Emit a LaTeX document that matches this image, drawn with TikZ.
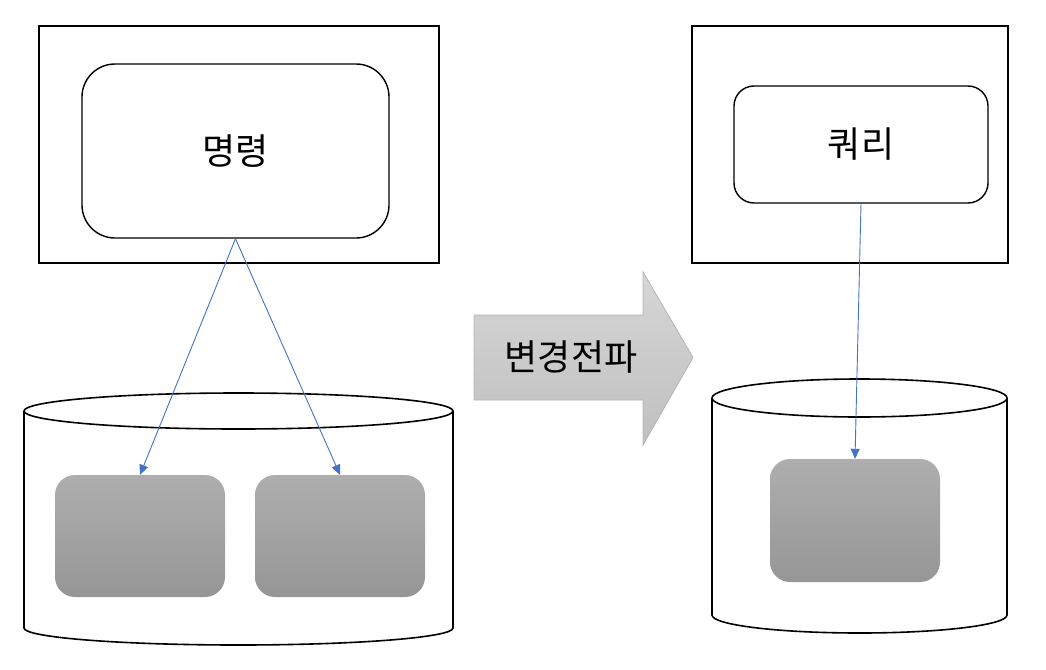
\documentclass[tikz,border=0pt]{standalone}
\usepackage{fontspec}
\usepackage{tikz}
\usetikzlibrary{arrows.meta,positioning,calc}
\newfontfamily\krfont{Noto Sans CJK KR}
\definecolor{linkblue}{RGB}{68,114,196}
\definecolor{storetop}{RGB}{174,174,174}
\definecolor{storebot}{RGB}{150,150,150}
\definecolor{flowtop}{RGB}{214,214,214}
\definecolor{flowbot}{RGB}{192,192,192}
\definecolor{flowedge}{RGB}{180,180,180}

\begin{document}
\begin{tikzpicture}[x=1pt,y=-1pt,
  frame/.style={draw,line width=1.6pt,minimum width=#1,minimum height=237pt,inner sep=0pt},
  textbox/.style={draw,line width=1.4pt,rounded corners=#1,inner sep=0pt,font=\krfont\fontsize{36}{40}\selectfont},
  store/.style={rounded corners=20pt,top color=storetop,bottom color=storebot,minimum width=170pt,minimum height=122pt,inner sep=0pt},
  link/.style={linkblue,line width=0.9pt,-{Triangle[length=10pt,width=9pt]}}]
  \useasboundingbox (0,0) rectangle (1046,669);
  \node[frame=400pt] (cmdframe) at (239,144.5) {};
  \node[textbox=33pt,minimum width=307pt,minimum height=174pt] (cmd) at (235.5,151) {명령};
  \node[frame=316pt] (qryframe) at (850,144.5) {};
  \node[textbox=20pt,minimum width=254pt,minimum height=117pt] (qry) at (861,144.5) {쿼리};
  \draw[line width=1.6pt] (24,411) -- (24,628) arc[start angle=180,end angle=0,x radius=214.5,y radius=17] -- (453,411);
  \draw[line width=1.6pt] (238.5,411) ellipse[x radius=214.5,y radius=18];
  \draw[line width=1.6pt] (712,398) -- (712,615) arc[start angle=180,end angle=0,x radius=147.5,y radius=18] -- (1007,398);
  \draw[line width=1.6pt] (859.5,398) ellipse[x radius=147.5,y radius=19];
  \node[store] (storeA) at (140,536) {};
  \node[store] (storeB) at (340,536) {};
  \node[store,minimum height=123pt] (storeC) at (855,520.5) {};
  \draw[flowedge,line width=0.8pt,top color=flowtop,bottom color=flowbot]
    (474,315) -- (643,315) -- (643,272) -- (693,357.5) -- (643,445) -- (643,400) -- (474,400) -- cycle;
  \node[font=\krfont\fontsize{36}{40}\selectfont] (flow) at (571,357) {변경전파};
  \draw[link] (cmd.south) -- (storeA.north);
  \draw[link] (cmd.south) -- (storeB.north);
  \draw[link] (qry.south) -- (storeC.north);
\end{tikzpicture}
\end{document}
